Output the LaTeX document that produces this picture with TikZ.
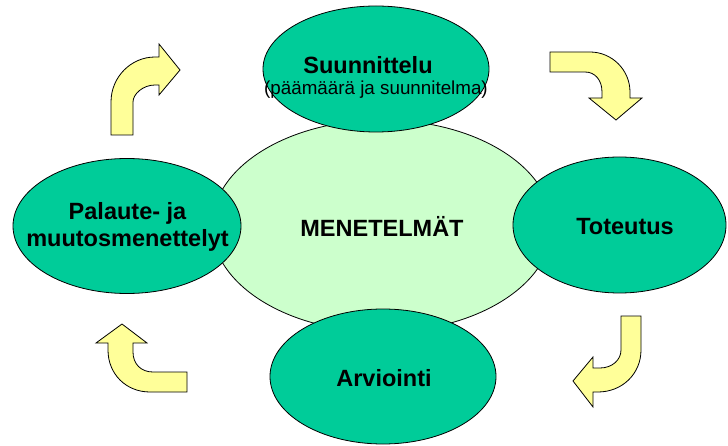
\documentclass[tikz,border=0pt]{standalone}
\usepackage{fontspec}
\setmainfont{Liberation Sans}
\usetikzlibrary{shapes.geometric}
\definecolor{phasegreen}{HTML}{00CC99}
\definecolor{coregreen}{HTML}{CCFFCC}
\definecolor{arrowyellow}{HTML}{FFFF99}
\newcommand{\bigbold}{\fontsize{23.5}{27}\selectfont\bfseries}
\newcommand{\smallreg}{\fontsize{18.8}{22}\selectfont}
\begin{document}
\begin{tikzpicture}[x=1pt,y=-1pt,
  phase/.style={ellipse, draw=black, line width=0.8pt, fill=phasegreen, inner sep=0pt, font=\bigbold, align=center},
  core/.style={ellipse, draw=black, line width=0.8pt, fill=coregreen, inner sep=0pt, font=\bigbold},
  turnarrow/.style={draw=black, line width=0.8pt, fill=arrowyellow, line join=miter}]
\useasboundingbox (0,0) rectangle (728,446);

% central ellipse
\node[core, minimum width=340pt, minimum height=212pt] (core) at (382,226) {MENETELMÄT};

% phase ellipses
\node[phase, minimum width=226pt, minimum height=126pt] (plan) at (376,69) {};
\node[font=\bigbold] (plantitle) at (368,65) {Suunnittelu};
\node[font=\smallreg] (plansub) at (376,90) {(päämäärä ja suunnitelma)};
\node[phase, minimum width=213pt, minimum height=136pt] (do) at (619.5,225) {};
\node[font=\bigbold] (dotext) at (625,227) {Toteutus};
\node[phase, minimum width=226pt, minimum height=135pt] (eval) at (383,376.5) {};
\node[font=\bigbold] (evaltext) at (384,378) {Arviointi};
\node[phase, minimum width=228pt, minimum height=135pt] (feedback) at (127,226) {};
\node[font=\bigbold, align=center] (feedbacktext) at (127.5,227) {Palaute- ja\\muutosmenettelyt};

% curved arrows
\draw[turnarrow] (111,135) -- (111,102) .. controls (111,77) and (131,57) .. (155,57)
  -- (159,57) -- (159,44) -- (180,70) -- (159,95) -- (159,85) -- (155,85)
  .. controls (143,85) and (133,94) .. (133,102) -- (133,135) -- cycle;
\draw[turnarrow] (550,52) -- (590,52) .. controls (612,52) and (630,70) .. (630,92)
  -- (630,98) -- (642,98) -- (616,120) -- (589,98) -- (602,98) -- (602,92)
  .. controls (602,80) and (595,72) .. (585,72) -- (550,72) -- cycle;
\draw[turnarrow] (641,316) -- (641,350) .. controls (641,374) and (622,392) .. (598,392)
  -- (593,392) -- (593,407) -- (573,381) -- (593,357) -- (593,368) -- (600,368)
  .. controls (612,368) and (621,360) .. (621,350) -- (621,316) -- cycle;
\draw[turnarrow] (187,392) -- (150,392) .. controls (126,392) and (108,374) .. (108,350)
  -- (108,343) -- (96,343) -- (122,324) -- (147,343) -- (133,343) -- (133,352)
  .. controls (133,364) and (141,372) .. (153,372) -- (187,372) -- cycle;
\end{tikzpicture}
\end{document}
